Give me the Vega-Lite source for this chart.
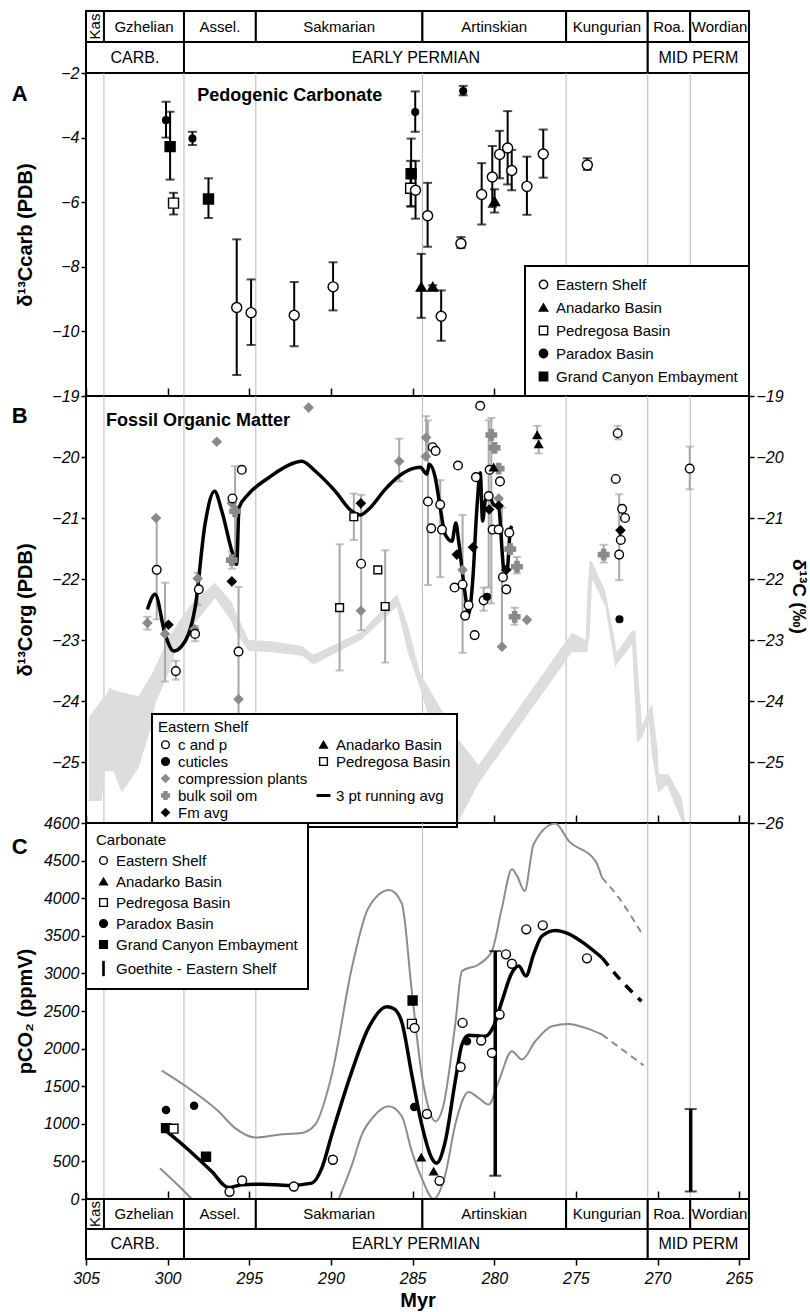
{
"$schema":"https://vega.github.io/schema/vega-lite/v6.json",
"padding":{"left":10,"top":9,"right":0,"bottom":5},
"spacing":0,
"bounds":"flush",
"config":{
 "font":"Liberation Sans",
 "view":{"stroke":"black","strokeWidth":2},
 "axis":{"labelFont":"Liberation Sans","labelFontSize":16,"labelFontStyle":"italic","labelColor":"black","tickColor":"black","tickWidth":1.5,"tickSize":5,"domain":false,"grid":false,"titleFont":"Liberation Sans","titleFontSize":20,"titleFontWeight":"bold","titleColor":"black","labelPadding":2,"labelFlush":false,"labelOverlap":false,"labelBound":false},
 "legend":{"labelFont":"Liberation Sans","labelFontSize":15,"labelColor":"black","strokeColor":"black","fillColor":"white","cornerRadius":0,"titleFont":"Liberation Sans","titleFontSize":15,"titleFontWeight":"normal","titleColor":"black","symbolStrokeWidth":1.4,"labelOffset":5,"strokeWidth":2,"labelLimit":260},
 "text":{"font":"Liberation Sans","color":"black"}
},
"resolve":{"scale":{"shape":"independent","fill":"independent","stroke":"independent","y":"independent"},"legend":{"shape":"independent","fill":"independent","stroke":"independent"}},
"datasets":{
 "stages":[
  {"name":"Kas","row":"stage","start":305,"end":303.9},
  {"name":"Gzhelian","row":"stage","start":303.9,"end":299.0},
  {"name":"Assel.","row":"stage","start":299.0,"end":294.6},
  {"name":"Sakmarian","row":"stage","start":294.6,"end":284.4},
  {"name":"Artinskian","row":"stage","start":284.4,"end":275.6},
  {"name":"Kungurian","row":"stage","start":275.6,"end":270.6},
  {"name":"Roa.","row":"stage","start":270.6,"end":268.0},
  {"name":"Wordian","row":"stage","start":268.0,"end":264.4},
  {"name":"CARB.","row":"epoch","start":305,"end":299.0},
  {"name":"EARLY PERMIAN","row":"epoch","start":299.0,"end":270.6},
  {"name":"MID PERM","row":"epoch","start":270.6,"end":264.4}
 ],
 "carbA":[
  {"age":300.10,"d13c":-3.46,"lo":-4.0,"hi":-2.89,"site":"Paradox Basin"},
  {"age":299.85,"d13c":-4.28,"lo":-5.3,"hi":-3.2,"site":"Grand Canyon Embayment"},
  {"age":299.64,"d13c":-6.03,"lo":-6.38,"hi":-5.71,"site":"Pedregosa Basin"},
  {"age":298.48,"d13c":-4.03,"lo":-4.23,"hi":-3.82,"site":"Paradox Basin"},
  {"age":297.50,"d13c":-5.9,"lo":-6.49,"hi":-5.26,"site":"Grand Canyon Embayment"},
  {"age":295.77,"d13c":-9.26,"lo":-11.35,"hi":-7.15,"site":"Eastern Shelf"},
  {"age":294.89,"d13c":-9.42,"lo":-10.42,"hi":-8.39,"site":"Eastern Shelf"},
  {"age":292.25,"d13c":-9.5,"lo":-10.46,"hi":-8.47,"site":"Eastern Shelf"},
  {"age":289.87,"d13c":-8.62,"lo":-9.35,"hi":-7.86,"site":"Eastern Shelf"},
  {"age":284.84,"d13c":-3.21,"lo":-3.82,"hi":-2.57,"site":"Paradox Basin"},
  {"age":285.09,"d13c":-5.12,"lo":-6.13,"hi":-4.03,"site":"Grand Canyon Embayment"},
  {"age":285.12,"d13c":-5.57,"lo":-6.13,"hi":-4.72,"site":"Pedregosa Basin"},
  {"age":284.82,"d13c":-5.63,"lo":-6.51,"hi":-4.72,"site":"Eastern Shelf"},
  {"age":284.08,"d13c":-6.42,"lo":-7.38,"hi":-5.4,"site":"Eastern Shelf"},
  {"age":284.47,"d13c":-8.62,"lo":-9.58,"hi":-7.6,"site":"Anadarko Basin"},
  {"age":283.77,"d13c":-8.62,"lo":-8.68,"hi":-8.57,"site":"Anadarko Basin"},
  {"age":283.25,"d13c":-9.53,"lo":-10.29,"hi":-8.73,"site":"Eastern Shelf"},
  {"age":281.90,"d13c":-2.56,"lo":-2.69,"hi":-2.4,"site":"Paradox Basin"},
  {"age":282.04,"d13c":-7.28,"lo":-7.42,"hi":-7.08,"site":"Eastern Shelf"},
  {"age":280.77,"d13c":-5.76,"lo":-6.69,"hi":-4.79,"site":"Eastern Shelf"},
  {"age":280.12,"d13c":-5.22,"lo":-6.15,"hi":-4.26,"site":"Eastern Shelf"},
  {"age":279.98,"d13c":-5.97,"lo":-6.32,"hi":-5.6,"site":"Anadarko Basin"},
  {"age":279.67,"d13c":-4.52,"lo":-5.26,"hi":-3.79,"site":"Eastern Shelf"},
  {"age":279.18,"d13c":-4.32,"lo":-5.45,"hi":-3.18,"site":"Eastern Shelf"},
  {"age":278.93,"d13c":-5.02,"lo":-5.63,"hi":-4.38,"site":"Eastern Shelf"},
  {"age":278.00,"d13c":-5.51,"lo":-6.39,"hi":-4.59,"site":"Eastern Shelf"},
  {"age":277.00,"d13c":-4.51,"lo":-5.24,"hi":-3.75,"site":"Eastern Shelf"},
  {"age":274.30,"d13c":-4.85,"lo":-5.0,"hi":-4.64,"site":"Eastern Shelf"}
 ],
 "orgB":[
  {"type":"compression plants","age":301.24,"d13c":-22.72,"lo":-22.83,"hi":-22.62},
  {"type":"compression plants","age":300.71,"d13c":-21.0},
  {"type":"compression plants","age":300.16,"d13c":-22.9,"lo":-23.68,"hi":-22.06},
  {"type":"compression plants","age":298.16,"d13c":-21.99,"lo":-22.43,"hi":-21.9},
  {"type":"compression plants","age":298.36,"d13c":-22.82},
  {"type":"compression plants","age":296.99,"d13c":-19.75},
  {"type":"compression plants","age":296.07,"d13c":-20.76},
  {"type":"compression plants","age":295.66,"d13c":-23.97},
  {"type":"compression plants","age":291.37,"d13c":-19.19},
  {"type":"compression plants","age":285.82,"d13c":-20.07,"lo":-20.4,"hi":-19.7},
  {"type":"compression plants","age":288.17,"d13c":-22.52},
  {"type":"compression plants","age":284.17,"d13c":-19.68,"lo":-20.0,"hi":-19.33},
  {"type":"compression plants","age":284.19,"d13c":-19.99},
  {"type":"compression plants","age":281.94,"d13c":-21.85,"lo":-23.21,"hi":-20.95},
  {"type":"compression plants","age":279.73,"d13c":-20.68},
  {"type":"compression plants","age":279.53,"d13c":-23.11,"lo":-23.11,"hi":-20.83},
  {"type":"compression plants","age":278.00,"d13c":-22.67},
  {"type":"bulk soil om","age":295.87,"d13c":-20.89,"lo":-21.6,"hi":-20.15},
  {"type":"bulk soil om","age":296.07,"d13c":-21.69,"lo":-21.83,"hi":-21.55},
  {"type":"bulk soil om","age":280.18,"d13c":-19.64,"lo":-22.4,"hi":-19.36},
  {"type":"bulk soil om","age":279.98,"d13c":-19.85},
  {"type":"bulk soil om","age":279.73,"d13c":-20.19},
  {"type":"bulk soil om","age":279.02,"d13c":-21.51},
  {"type":"bulk soil om","age":278.61,"d13c":-21.8,"lo":-21.91,"hi":-21.64},
  {"type":"bulk soil om","age":278.75,"d13c":-22.62,"lo":-22.75,"hi":-22.47},
  {"type":"bulk soil om","age":273.30,"d13c":-21.6,"lo":-21.73,"hi":-21.44},
  {"type":"c and p","age":300.67,"d13c":-21.85,"lo":-22.66,"hi":-21.0},
  {"type":"c and p","age":299.50,"d13c":-23.51,"lo":-23.65,"hi":-23.34},
  {"type":"c and p","age":298.09,"d13c":-22.17},
  {"type":"c and p","age":298.32,"d13c":-22.9,"lo":-23.02,"hi":-22.77},
  {"type":"c and p","age":296.03,"d13c":-20.68},
  {"type":"c and p","age":295.66,"d13c":-23.19,"lo":-24.25,"hi":-22.13},
  {"type":"c and p","age":295.46,"d13c":-20.21},
  {"type":"c and p","age":288.15,"d13c":-21.75,"lo":-22.84,"hi":-20.62},
  {"type":"c and p","age":284.06,"d13c":-20.73,"lo":-22.1,"hi":-19.4},
  {"type":"c and p","age":283.77,"d13c":-19.84},
  {"type":"c and p","age":283.59,"d13c":-19.9},
  {"type":"c and p","age":283.86,"d13c":-21.17},
  {"type":"c and p","age":283.31,"d13c":-20.78,"lo":-21.97,"hi":-20.38},
  {"type":"c and p","age":283.20,"d13c":-21.19},
  {"type":"c and p","age":282.22,"d13c":-20.14},
  {"type":"c and p","age":282.43,"d13c":-22.14},
  {"type":"c and p","age":281.94,"d13c":-22.09},
  {"type":"c and p","age":281.57,"d13c":-22.43},
  {"type":"c and p","age":281.78,"d13c":-22.6},
  {"type":"c and p","age":281.20,"d13c":-22.92},
  {"type":"c and p","age":281.12,"d13c":-20.33},
  {"type":"c and p","age":280.86,"d13c":-19.16},
  {"type":"c and p","age":280.65,"d13c":-22.35,"lo":-22.52,"hi":-22.14},
  {"type":"c and p","age":280.28,"d13c":-20.21},
  {"type":"c and p","age":280.34,"d13c":-20.64,"lo":-22.14,"hi":-19.4},
  {"type":"c and p","age":279.65,"d13c":-20.4},
  {"type":"c and p","age":280.10,"d13c":-21.19},
  {"type":"c and p","age":279.73,"d13c":-21.19},
  {"type":"c and p","age":279.47,"d13c":-21.97},
  {"type":"c and p","age":279.26,"d13c":-22.17},
  {"type":"c and p","age":279.08,"d13c":-21.24},
  {"type":"c and p","age":272.56,"d13c":-20.36},
  {"type":"c and p","age":272.17,"d13c":-20.85},
  {"type":"c and p","age":271.99,"d13c":-21.0},
  {"type":"c and p","age":272.25,"d13c":-21.36},
  {"type":"c and p","age":272.35,"d13c":-21.6,"lo":-22.02,"hi":-20.61},
  {"type":"c and p","age":272.44,"d13c":-19.61,"lo":-19.71,"hi":-19.49},
  {"type":"c and p","age":268.03,"d13c":-20.19,"lo":-20.53,"hi":-19.83},
  {"type":"cuticles","age":280.45,"d13c":-22.29},
  {"type":"cuticles","age":272.33,"d13c":-22.66},
  {"type":"Fm avg","age":299.95,"d13c":-22.75},
  {"type":"Fm avg","age":296.07,"d13c":-22.04},
  {"type":"Fm avg","age":288.17,"d13c":-20.76},
  {"type":"Fm avg","age":282.29,"d13c":-21.6},
  {"type":"Fm avg","age":281.30,"d13c":-21.48},
  {"type":"Fm avg","age":280.31,"d13c":-20.86},
  {"type":"Fm avg","age":279.73,"d13c":-20.8},
  {"type":"Fm avg","age":279.26,"d13c":-21.85},
  {"type":"Fm avg","age":272.27,"d13c":-21.2},
  {"type":"Anadarko Basin","age":277.37,"d13c":-19.64,"lo":-19.71,"hi":-19.49},
  {"type":"Anadarko Basin","age":277.28,"d13c":-19.79,"lo":-19.94,"hi":-19.71},
  {"type":"Anadarko Basin","age":280.04,"d13c":-20.17},
  {"type":"Pedregosa Basin","age":288.60,"d13c":-20.98,"lo":-21.36,"hi":-20.6},
  {"type":"Pedregosa Basin","age":289.47,"d13c":-22.47,"lo":-23.5,"hi":-21.43},
  {"type":"Pedregosa Basin","age":287.13,"d13c":-21.85},
  {"type":"Pedregosa Basin","age":286.68,"d13c":-22.45,"lo":-23.37,"hi":-21.53}
 ],
 "avgB":[
  {"age":301.24,"v":-22.5},{"age":300.77,"v":-22.25},{"age":300.16,"v":-22.9},{"age":299.64,"v":-23.18},
  {"age":299.14,"v":-23.1},{"age":298.32,"v":-22.47},{"age":297.71,"v":-21.1},{"age":297.13,"v":-20.56},
  {"age":296.68,"v":-20.89},{"age":296.07,"v":-21.54},{"age":295.77,"v":-21.76},{"age":295.63,"v":-20.83},
  {"age":295.05,"v":-20.61},{"age":293.82,"v":-20.34},{"age":292.19,"v":-20.09},{"age":291.78,"v":-20.07},
  {"age":290.97,"v":-20.23},{"age":289.74,"v":-20.56},{"age":288.72,"v":-20.89},{"age":288.21,"v":-20.95},
  {"age":287.70,"v":-20.86},{"age":286.68,"v":-20.53},{"age":285.66,"v":-20.28},{"age":284.53,"v":-20.17},
  {"age":284.12,"v":-20.28},{"age":283.98,"v":-20.12},{"age":283.61,"v":-20.34},{"age":283.31,"v":-20.83},
  {"age":283.00,"v":-21.27},{"age":282.59,"v":-21.38},{"age":282.35,"v":-21.08},{"age":282.18,"v":-21.38},
  {"age":281.78,"v":-22.25},{"age":281.57,"v":-22.58},{"age":281.32,"v":-22.03},{"age":281.06,"v":-20.83},
  {"age":280.86,"v":-20.26},{"age":280.71,"v":-21.05},{"age":280.55,"v":-20.72},{"age":280.34,"v":-20.64},
  {"age":280.04,"v":-20.78},{"age":279.73,"v":-20.83},{"age":279.42,"v":-21.81},{"age":279.22,"v":-21.87},
  {"age":279.02,"v":-21.21},{"age":278.92,"v":-21.13}
 ],
 "bandB":[
  {"age":304.82,"lo":-25.64,"hi":-24.27},{"age":304.65,"lo":-25.64,"hi":-24.2},{"age":304.04,"lo":-25.64,"hi":-23.98},
  {"age":303.84,"lo":-25.15,"hi":-23.93},{"age":303.53,"lo":-25.15,"hi":-23.78},{"age":303.32,"lo":-25.15,"hi":-23.82},
  {"age":302.81,"lo":-25.5,"hi":-23.86},{"age":301.79,"lo":-25.1,"hi":-23.92},{"age":300.97,"lo":-24.4,"hi":-23.56},
  {"age":300.77,"lo":-24.05,"hi":-23.45},{"age":299.95,"lo":-23.55,"hi":-22.96},{"age":299.55,"lo":-23.23,"hi":-22.8},
  {"age":298.73,"lo":-22.9,"hi":-22.47},{"age":298.32,"lo":-22.72,"hi":-22.35},{"age":297.10,"lo":-22.31,"hi":-22.06},
  {"age":296.07,"lo":-22.7,"hi":-22.38},{"age":295.87,"lo":-22.85,"hi":-22.52},{"age":295.05,"lo":-23.18,"hi":-23.0},
  {"age":293.62,"lo":-23.2,"hi":-23.02},{"age":291.78,"lo":-23.26,"hi":-23.1},{"age":291.07,"lo":-23.4,"hi":-23.24},
  {"age":288.11,"lo":-22.99,"hi":-22.86},{"age":285.96,"lo":-22.45,"hi":-22.25},{"age":285.30,"lo":-23.2,"hi":-22.75},
  {"age":284.53,"lo":-23.8,"hi":-23.55},{"age":282.18,"lo":-25.97,"hi":-24.63},{"age":280.96,"lo":-25.35,"hi":-25.05},
  {"age":275.24,"lo":-23.2,"hi":-22.88},{"age":274.40,"lo":-23.2,"hi":-23.0},{"age":274.30,"lo":-23.2,"hi":-22.2},
  {"age":274.15,"lo":-22.9,"hi":-21.7},{"age":274.00,"lo":-22.0,"hi":-21.72},{"age":273.20,"lo":-22.45,"hi":-22.2},
  {"age":272.59,"lo":-23.45,"hi":-23.05},{"age":272.49,"lo":-23.4,"hi":-23.2},{"age":271.56,"lo":-23.07,"hi":-22.85},
  {"age":271.36,"lo":-24.13,"hi":-22.85},{"age":271.26,"lo":-24.68,"hi":-23.27},{"age":270.95,"lo":-24.6,"hi":-24.4},
  {"age":270.54,"lo":-24.33,"hi":-24.15},{"age":270.34,"lo":-24.9,"hi":-24.05},{"age":269.97,"lo":-25.5,"hi":-24.85},
  {"age":269.93,"lo":-25.5,"hi":-25.2},{"age":269.42,"lo":-25.37,"hi":-25.2},{"age":269.32,"lo":-25.45,"hi":-25.2},
  {"age":268.51,"lo":-25.97,"hi":-25.6},{"age":268.31,"lo":-26.0,"hi":-25.97}
 ],
 "co2C":[
  {"site":"Paradox Basin","age":300.10,"co2":1183},
  {"site":"Paradox Basin","age":298.38,"co2":1241},
  {"site":"Grand Canyon Embayment","age":300.10,"co2":943},
  {"site":"Pedregosa Basin","age":299.64,"co2":935},
  {"site":"Grand Canyon Embayment","age":297.65,"co2":562},
  {"site":"Eastern Shelf","age":296.21,"co2":96},
  {"site":"Eastern Shelf","age":295.44,"co2":246},
  {"site":"Eastern Shelf","age":292.27,"co2":166},
  {"site":"Eastern Shelf","age":289.88,"co2":522},
  {"site":"Grand Canyon Embayment","age":285.0,"co2":2640},
  {"site":"Pedregosa Basin","age":285.04,"co2":2329},
  {"site":"Eastern Shelf","age":284.88,"co2":2275},
  {"site":"Paradox Basin","age":284.90,"co2":1223},
  {"site":"Eastern Shelf","age":284.12,"co2":1130},
  {"site":"Anadarko Basin","age":284.47,"co2":553},
  {"site":"Anadarko Basin","age":283.71,"co2":366},
  {"site":"Eastern Shelf","age":283.35,"co2":242},
  {"site":"Eastern Shelf","age":281.94,"co2":2342},
  {"site":"Paradox Basin","age":281.67,"co2":2098},
  {"site":"Eastern Shelf","age":282.06,"co2":1756},
  {"site":"Eastern Shelf","age":280.80,"co2":2107},
  {"site":"Eastern Shelf","age":280.14,"co2":1942},
  {"site":"Eastern Shelf","age":279.67,"co2":2453},
  {"site":"Eastern Shelf","age":279.28,"co2":3253},
  {"site":"Eastern Shelf","age":278.92,"co2":3128},
  {"site":"Eastern Shelf","age":278.04,"co2":3586},
  {"site":"Eastern Shelf","age":277.03,"co2":3639},
  {"site":"Eastern Shelf","age":274.32,"co2":3200}
 ],
 "goeC":[
  {"age":279.94,"lo":309,"hi":3297},
  {"age":267.97,"lo":100,"hi":1196}
 ],
 "curvesC":[
  {"curve":"mean","style":"solid","age":300.06,"co2":899},{"curve":"mean","style":"solid","age":298.73,"co2":655},
  {"curve":"mean","style":"solid","age":297.30,"co2":366},{"curve":"mean","style":"solid","age":296.27,"co2":153},
  {"curve":"mean","style":"solid","age":295.46,"co2":189},{"curve":"mean","style":"solid","age":294.23,"co2":197},
  {"curve":"mean","style":"solid","age":292.60,"co2":180},{"curve":"mean","style":"solid","age":291.17,"co2":211},
  {"curve":"mean","style":"solid","age":290.56,"co2":410},{"curve":"mean","style":"solid","age":289.95,"co2":855},
  {"curve":"mean","style":"solid","age":288.72,"co2":1698},{"curve":"mean","style":"solid","age":287.70,"co2":2275},
  {"curve":"mean","style":"solid","age":286.57,"co2":2555},{"curve":"mean","style":"solid","age":286.15,"co2":2530},
  {"curve":"mean","style":"solid","age":285.66,"co2":2350},{"curve":"mean","style":"solid","age":285.05,"co2":1654},
  {"curve":"mean","style":"solid","age":284.44,"co2":988},{"curve":"mean","style":"solid","age":283.83,"co2":543},
  {"curve":"mean","style":"solid","age":283.53,"co2":477},{"curve":"mean","style":"solid","age":283.00,"co2":766},
  {"curve":"mean","style":"solid","age":282.39,"co2":1565},{"curve":"mean","style":"solid","age":281.98,"co2":2054},
  {"curve":"mean","style":"solid","age":281.57,"co2":2178},{"curve":"mean","style":"solid","age":280.55,"co2":2164},
  {"curve":"mean","style":"solid","age":280.04,"co2":2298},{"curve":"mean","style":"solid","age":279.53,"co2":2631},
  {"curve":"mean","style":"solid","age":278.92,"co2":3008},{"curve":"mean","style":"solid","age":278.50,"co2":3097},
  {"curve":"mean","style":"solid","age":278.06,"co2":2964},{"curve":"mean","style":"solid","age":277.59,"co2":3253},
  {"curve":"mean","style":"solid","age":277.08,"co2":3497},{"curve":"mean","style":"solid","age":276.26,"co2":3572},
  {"curve":"mean","style":"solid","age":275.44,"co2":3527},{"curve":"mean","style":"solid","age":274.42,"co2":3386},
  {"curve":"mean","style":"solid","age":273.40,"co2":3208},
  {"curve":"mean","style":"dashed","age":273.40,"co2":3208},{"curve":"mean","style":"dashed","age":272.38,"co2":2941},
  {"curve":"mean","style":"dashed","age":270.99,"co2":2631},
  {"curve":"upper","style":"solid","age":300.36,"co2":1708},{"curve":"upper","style":"solid","age":298.73,"co2":1476},
  {"curve":"upper","style":"solid","age":296.89,"co2":1166},{"curve":"upper","style":"solid","age":295.87,"co2":943},
  {"curve":"upper","style":"solid","age":294.64,"co2":819},{"curve":"upper","style":"solid","age":293.21,"co2":855},
  {"curve":"upper","style":"solid","age":291.78,"co2":877},{"curve":"upper","style":"solid","age":290.97,"co2":988},
  {"curve":"upper","style":"solid","age":289.95,"co2":1654},{"curve":"upper","style":"solid","age":288.72,"co2":3074},
  {"curve":"upper","style":"solid","age":287.70,"co2":3873},{"curve":"upper","style":"solid","age":286.43,"co2":4109},
  {"curve":"upper","style":"solid","age":285.66,"co2":3930},{"curve":"upper","style":"solid","age":285.05,"co2":2764},
  {"curve":"upper","style":"solid","age":284.44,"co2":1654},{"curve":"upper","style":"solid","age":284.02,"co2":1209},
  {"curve":"upper","style":"solid","age":283.61,"co2":1032},{"curve":"upper","style":"solid","age":283.10,"co2":1255},
  {"curve":"upper","style":"solid","age":282.39,"co2":2320},{"curve":"upper","style":"solid","age":281.98,"co2":3030},
  {"curve":"upper","style":"solid","age":280.96,"co2":3119},{"curve":"upper","style":"solid","age":280.14,"co2":3297},
  {"curve":"upper","style":"solid","age":279.53,"co2":3873},{"curve":"upper","style":"solid","age":278.92,"co2":4385},
  {"curve":"upper","style":"solid","age":278.61,"co2":4300},{"curve":"upper","style":"solid","age":278.14,"co2":4096},
  {"curve":"upper","style":"solid","age":277.59,"co2":4718},{"curve":"upper","style":"solid","age":276.26,"co2":4993},
  {"curve":"upper","style":"solid","age":275.44,"co2":4762},{"curve":"upper","style":"solid","age":273.81,"co2":4496},
  {"curve":"upper","style":"solid","age":273.40,"co2":4273},
  {"curve":"upper","style":"dashed","age":273.40,"co2":4273},{"curve":"upper","style":"dashed","age":272.38,"co2":4007},
  {"curve":"upper","style":"dashed","age":270.99,"co2":3540},
  {"curve":"lower1","style":"solid","age":300.47,"co2":410},{"curve":"lower1","style":"solid","age":299.44,"co2":200},
  {"curve":"lower1","style":"solid","age":298.52,"co2":0},
  {"curve":"lower2","style":"solid","age":289.53,"co2":0},{"curve":"lower2","style":"solid","age":288.72,"co2":450},
  {"curve":"lower2","style":"solid","age":288.11,"co2":855},{"curve":"lower2","style":"solid","age":287.37,"co2":1100},
  {"curve":"lower2","style":"solid","age":286.47,"co2":1232},{"curve":"lower2","style":"solid","age":285.66,"co2":1100},
  {"curve":"lower2","style":"solid","age":285.05,"co2":633},{"curve":"lower2","style":"solid","age":284.44,"co2":277},
  {"curve":"lower2","style":"solid","age":283.71,"co2":0},{"curve":"lower2","style":"solid","age":283.00,"co2":322},
  {"curve":"lower2","style":"solid","age":282.39,"co2":988},{"curve":"lower2","style":"solid","age":281.57,"co2":1423},
  {"curve":"lower2","style":"solid","age":280.96,"co2":1343},{"curve":"lower2","style":"solid","age":280.34,"co2":1255},
  {"curve":"lower2","style":"solid","age":279.73,"co2":1565},{"curve":"lower2","style":"solid","age":278.92,"co2":1965},
  {"curve":"lower2","style":"solid","age":278.30,"co2":1854},{"curve":"lower2","style":"solid","age":277.49,"co2":2098},
  {"curve":"lower2","style":"solid","age":276.47,"co2":2298},{"curve":"lower2","style":"solid","age":275.44,"co2":2328},
  {"curve":"lower2","style":"solid","age":274.42,"co2":2275},{"curve":"lower2","style":"solid","age":273.40,"co2":2187},
  {"curve":"lower2","style":"dashed","age":273.40,"co2":2187},{"curve":"lower2","style":"dashed","age":272.16,"co2":1987},
  {"curve":"lower2","style":"dashed","age":270.85,"co2":1778}
 ]
},
"vconcat":[
 {
  "width":663,"height":62,
  "data":{"name":"stages"},
  "layer":[
   {"mark":{"type":"rect","fill":"white","stroke":"black","strokeWidth":2},
    "encoding":{
     "x":{"field":"start","type":"quantitative","scale":{"domain":[264.4,305],"reverse":true,"nice":false,"zero":false},"axis":null},
     "x2":{"field":"end"},
     "y":{"field":"row","type":"nominal","scale":{"domain":["stage","epoch"],"paddingInner":0,"paddingOuter":0},"axis":null}}},
   {"transform":[{"fold":["start","end"],"as":["k","v"]},{"aggregate":[{"op":"mean","field":"v","as":"mid"}],"groupby":["name","row"]}],
    "mark":{"type":"text","baseline":"middle","align":"center"},
    "encoding":{
     "x":{"field":"mid","type":"quantitative","scale":{"domain":[264.4,305],"reverse":true,"nice":false,"zero":false},"axis":null},
     "y":{"field":"row","type":"nominal","scale":{"domain":["stage","epoch"],"paddingInner":0,"paddingOuter":0},"axis":null},
     "text":{"field":"name"},
     "size":{"condition":{"test":"datum.row==='epoch'","value":16},"value":15},
     "angle":{"condition":{"test":"datum.name==='Kas'","value":270},"value":0}}}
  ]
 },
 {
  "width":663,"height":323,
  "layer":[
   {"data":{"name":"stages"},"transform":[{"filter":"datum.row==='stage' && datum.start<305"}],
    "mark":{"type":"rule","color":"#b8b8b8","strokeWidth":1},
    "encoding":{"x":{"field":"start","type":"quantitative","scale":{"domain":[264.4,305],"reverse":true,"nice":false,"zero":false},
      "axis":{"orient":"bottom","values":[305,300,295,290,285,280,275,270,265],"tickSize":-8,"labels":false,"title":null}}}},
   {"data":{"name":"carbA"},"mark":{"type":"rule","color":"black","strokeWidth":2},
    "encoding":{
     "x":{"field":"age","type":"quantitative","scale":{"domain":[264.4,305],"reverse":true,"nice":false,"zero":false}},
     "y":{"field":"lo","type":"quantitative","scale":{"domain":[-12,-2],"nice":false,"zero":false},
      "axis":{"values":[-2,-4,-6,-8,-10],"format":".0f","labelOverlap":false,"title":"δ¹³Ccarb (PDB)","titleX":-61,"titleAngle":270,"titleBaseline":"middle","titleAlign":"center"}},
     "y2":{"field":"hi"}}},
   {"data":{"name":"carbA"},"mark":{"type":"tick","orient":"horizontal","size":9,"thickness":2,"color":"black"},
    "encoding":{
     "x":{"field":"age","type":"quantitative","scale":{"domain":[264.4,305],"reverse":true,"nice":false,"zero":false}},
     "y":{"field":"lo","type":"quantitative","scale":{"domain":[-12,-2],"nice":false,"zero":false}}}},
   {"data":{"name":"carbA"},"mark":{"type":"tick","orient":"horizontal","size":9,"thickness":2,"color":"black"},
    "encoding":{
     "x":{"field":"age","type":"quantitative","scale":{"domain":[264.4,305],"reverse":true,"nice":false,"zero":false}},
     "y":{"field":"hi","type":"quantitative","scale":{"domain":[-12,-2],"nice":false,"zero":false}}}},
   {"data":{"name":"carbA"},"mark":{"type":"point","filled":true,"strokeWidth":1.4,"opacity":1},
    "encoding":{
     "x":{"field":"age","type":"quantitative","scale":{"domain":[264.4,305],"reverse":true,"nice":false,"zero":false}},
     "y":{"field":"d13c","type":"quantitative","scale":{"domain":[-12,-2],"nice":false,"zero":false}},
     "shape":{"field":"site","type":"nominal","scale":{"domain":["Eastern Shelf","Anadarko Basin","Pedregosa Basin","Paradox Basin","Grand Canyon Embayment"],"range":["circle","triangle-up","square","circle","square"]},
      "legend":{"title":null,"orient":"bottom-right","offset":0,"padding":11,"rowPadding":7,"symbolSize":70}},
     "fill":{"field":"site","type":"nominal","scale":{"domain":["Eastern Shelf","Anadarko Basin","Pedregosa Basin","Paradox Basin","Grand Canyon Embayment"],"range":["white","black","white","black","black"]},
      "legend":{"title":null,"orient":"bottom-right","offset":0,"padding":11,"rowPadding":7,"symbolSize":70}},
     "stroke":{"field":"site","type":"nominal","scale":{"domain":["Eastern Shelf","Anadarko Basin","Pedregosa Basin","Paradox Basin","Grand Canyon Embayment"],"range":["black","black","black","black","black"]},
      "legend":{"title":null,"orient":"bottom-right","offset":0,"padding":11,"rowPadding":7,"symbolSize":70}},
     "size":{"condition":{"test":"datum.site==='Paradox Basin'","value":45},"value":100}}},
   {"data":{"values":[{}]},"mark":{"type":"text","text":"Pedogenic Carbonate","fontSize":18,"fontWeight":"bold","align":"center","baseline":"middle"},
    "encoding":{
     "x":{"datum":292.52,"type":"quantitative","scale":{"domain":[264.4,305],"reverse":true,"nice":false,"zero":false}},
     "y":{"datum":-2.72,"type":"quantitative","scale":{"domain":[-12,-2],"nice":false,"zero":false}}}},
   {"data":{"values":[{}]},"mark":{"type":"text","text":"A","fontSize":22,"fontWeight":"bold","align":"left","baseline":"middle"},
    "encoding":{
     "x":{"datum":309.55,"type":"quantitative","scale":{"domain":[264.4,305],"reverse":true,"nice":false,"zero":false}},
     "y":{"datum":-2.66,"type":"quantitative","scale":{"domain":[-12,-2],"nice":false,"zero":false}}}}
  ]
 },
 {
  "width":663,"height":427,
  "layer":[
   {"data":{"name":"stages"},"transform":[{"filter":"datum.row==='stage' && datum.start<305"}],
    "mark":{"type":"rule","color":"#b8b8b8","strokeWidth":1},
    "encoding":{"x":{"field":"start","type":"quantitative","scale":{"domain":[264.4,305],"reverse":true,"nice":false,"zero":false},
      "axis":{"orient":"bottom","values":[305,300,295,290,285,280,275,270,265],"tickSize":-8,"labels":false,"title":null}}}},
   {"data":{"name":"bandB"},"mark":{"type":"area","color":"#dddddd","opacity":1},
    "encoding":{
     "x":{"field":"age","type":"quantitative","scale":{"domain":[264.4,305],"reverse":true,"nice":false,"zero":false}},
     "y":{"field":"lo","type":"quantitative","scale":{"domain":[-26,-19],"nice":false,"zero":false},
      "axis":{"orient":"right","values":[-19,-20,-21,-22,-23,-24,-25,-26],"format":".0f","labelOverlap":false,"title":"δ¹³C (‰)","titleAngle":90,"titleBaseline":"middle","titleAlign":"center","titleX":49,"titleY":200,"titleFontSize":19}},
     "y2":{"field":"hi"}}},
   {"layer":[
    {"data":{"name":"orgB"},"transform":[{"filter":"isValid(datum.lo)"}],"mark":{"type":"rule","color":"#a8a8a8","strokeWidth":2},
     "encoding":{
      "x":{"field":"age","type":"quantitative","scale":{"domain":[264.4,305],"reverse":true,"nice":false,"zero":false}},
      "y":{"field":"lo","type":"quantitative","scale":{"domain":[-26,-19],"nice":false,"zero":false},
       "axis":{"values":[-19,-20,-21,-22,-23,-24,-25],"format":".0f","labelOverlap":false,"title":"δ¹³Corg (PDB)","titleX":-61,"titleAngle":270,"titleBaseline":"middle","titleAlign":"center"}},
      "y2":{"field":"hi"}}},
    {"data":{"name":"orgB"},"transform":[{"filter":"isValid(datum.lo)"}],"mark":{"type":"tick","orient":"horizontal","size":8,"thickness":2,"color":"#a8a8a8"},
     "encoding":{
      "x":{"field":"age","type":"quantitative","scale":{"domain":[264.4,305],"reverse":true,"nice":false,"zero":false}},
      "y":{"field":"lo","type":"quantitative","scale":{"domain":[-26,-19],"nice":false,"zero":false}}}},
    {"data":{"name":"orgB"},"transform":[{"filter":"isValid(datum.hi)"}],"mark":{"type":"tick","orient":"horizontal","size":8,"thickness":2,"color":"#a8a8a8"},
     "encoding":{
      "x":{"field":"age","type":"quantitative","scale":{"domain":[264.4,305],"reverse":true,"nice":false,"zero":false}},
      "y":{"field":"hi","type":"quantitative","scale":{"domain":[-26,-19],"nice":false,"zero":false}}}},
    {"data":{"name":"avgB"},"mark":{"type":"line","color":"black","strokeWidth":3.5,"interpolate":"monotone"},
     "encoding":{
      "x":{"field":"age","type":"quantitative","scale":{"domain":[264.4,305],"reverse":true,"nice":false,"zero":false}},
      "y":{"field":"v","type":"quantitative","scale":{"domain":[-26,-19],"nice":false,"zero":false}}}},
    {"data":{"name":"orgB"},"mark":{"type":"point","filled":true,"strokeWidth":1.4,"opacity":1},
     "encoding":{
      "x":{"field":"age","type":"quantitative","scale":{"domain":[264.4,305],"reverse":true,"nice":false,"zero":false}},
      "y":{"field":"d13c","type":"quantitative","scale":{"domain":[-26,-19],"nice":false,"zero":false}},
      "shape":{"field":"type","type":"nominal","scale":{"domain":["c and p","cuticles","compression plants","bulk soil om","Fm avg","Anadarko Basin","Pedregosa Basin","_","3 pt running avg"],"range":["circle","circle","diamond","cross","diamond","triangle-up","square","circle","M-1.6,-0.22H1.6V0.22H-1.6Z"]},
       "legend":{"title":"Eastern Shelf","orient":"none","legendX":66,"legendY":318,"columns":2,"padding":6,"rowPadding":1,"columnPadding":6,"titlePadding":2,"symbolSize":60,"labelExpr":"datum.label==='_'?'':datum.label"}},
      "fill":{"field":"type","type":"nominal","scale":{"domain":["c and p","cuticles","compression plants","bulk soil om","Fm avg","Anadarko Basin","Pedregosa Basin","_","3 pt running avg"],"range":["white","black","#8a8a8a","#8a8a8a","black","black","white","transparent","black"]},
       "legend":{"title":"Eastern Shelf","orient":"none","legendX":66,"legendY":318,"columns":2,"padding":6,"rowPadding":1,"columnPadding":6,"titlePadding":2,"symbolSize":60,"labelExpr":"datum.label==='_'?'':datum.label"}},
      "stroke":{"field":"type","type":"nominal","scale":{"domain":["c and p","cuticles","compression plants","bulk soil om","Fm avg","Anadarko Basin","Pedregosa Basin","_","3 pt running avg"],"range":["black","black","#8a8a8a","#8a8a8a","black","black","black","transparent","black"]},
       "legend":{"title":"Eastern Shelf","orient":"none","legendX":66,"legendY":318,"columns":2,"padding":6,"rowPadding":1,"columnPadding":6,"titlePadding":2,"symbolSize":60,"labelExpr":"datum.label==='_'?'':datum.label"}},
      "size":{"condition":[{"test":"datum.type==='cuticles'","value":45},{"test":"datum.type==='bulk soil om'","value":110},{"test":"datum.type==='Anadarko Basin' || datum.type==='Pedregosa Basin'","value":60}],"value":75}}},
    {"data":{"values":[{}]},"mark":{"type":"text","text":"Fossil Organic Matter","fontSize":18,"fontWeight":"bold","align":"left","baseline":"middle"},
     "encoding":{
      "x":{"datum":303.77,"type":"quantitative","scale":{"domain":[264.4,305],"reverse":true,"nice":false,"zero":false}},
      "y":{"datum":-19.41,"type":"quantitative","scale":{"domain":[-26,-19],"nice":false,"zero":false}}}},
    {"data":{"values":[{}]},"mark":{"type":"text","text":"B","fontSize":22,"fontWeight":"bold","align":"left","baseline":"middle"},
     "encoding":{
      "x":{"datum":309.55,"type":"quantitative","scale":{"domain":[264.4,305],"reverse":true,"nice":false,"zero":false}},
      "y":{"datum":-19.33,"type":"quantitative","scale":{"domain":[-26,-19],"nice":false,"zero":false}}}}
   ]}
  ],
  "resolve":{"scale":{"y":"independent"}}
 },
 {
  "width":663,"height":376,
  "layer":[
   {"data":{"name":"stages"},"transform":[{"filter":"datum.row==='stage' && datum.start<305"}],
    "mark":{"type":"rule","color":"#b8b8b8","strokeWidth":1},
    "encoding":{"x":{"field":"start","type":"quantitative","scale":{"domain":[264.4,305],"reverse":true,"nice":false,"zero":false},
      "axis":{"orient":"bottom","values":[305,300,295,290,285,280,275,270,265],"tickSize":-8,"labels":false,"title":null}}}},
   {"data":{"name":"curvesC"},"transform":[{"filter":"datum.curve!=='mean' && datum.style==='solid'"}],
    "mark":{"type":"line","color":"#8c8c8c","strokeWidth":2,"interpolate":"monotone","clip":true},
    "encoding":{
     "x":{"field":"age","type":"quantitative","scale":{"domain":[264.4,305],"reverse":true,"nice":false,"zero":false}},
     "y":{"field":"co2","type":"quantitative","scale":{"domain":[0,5000],"nice":false,"zero":false},
      "axis":{"values":[0,500,1000,1500,2000,2500,3000,3500,4000,4500,5000],"tickCount":11,"labelOverlap":false,"labelSeparation":0,"labelExpr":"datum.value==5000?'4600':format(datum.value,'d')","title":"pCO₂ (ppmV)","titleX":-61,"titleAngle":270,"titleBaseline":"middle","titleAlign":"center"}},
     "detail":{"field":"curve"}}},
   {"data":{"name":"curvesC"},"transform":[{"filter":"datum.curve!=='mean' && datum.style==='dashed'"}],
    "mark":{"type":"line","color":"#8c8c8c","strokeWidth":2,"strokeDash":[7,5],"interpolate":"monotone","clip":true},
    "encoding":{
     "x":{"field":"age","type":"quantitative","scale":{"domain":[264.4,305],"reverse":true,"nice":false,"zero":false}},
     "y":{"field":"co2","type":"quantitative","scale":{"domain":[0,5000],"nice":false,"zero":false}},
     "detail":{"field":"curve"}}},
   {"data":{"name":"curvesC"},"transform":[{"filter":"datum.curve==='mean' && datum.style==='solid'"}],
    "mark":{"type":"line","color":"black","strokeWidth":3.5,"interpolate":"monotone","clip":true},
    "encoding":{
     "x":{"field":"age","type":"quantitative","scale":{"domain":[264.4,305],"reverse":true,"nice":false,"zero":false}},
     "y":{"field":"co2","type":"quantitative","scale":{"domain":[0,5000],"nice":false,"zero":false}}}},
   {"data":{"name":"curvesC"},"transform":[{"filter":"datum.curve==='mean' && datum.style==='dashed'"}],
    "mark":{"type":"line","color":"black","strokeWidth":3.5,"strokeDash":[10,8],"interpolate":"monotone","clip":true},
    "encoding":{
     "x":{"field":"age","type":"quantitative","scale":{"domain":[264.4,305],"reverse":true,"nice":false,"zero":false}},
     "y":{"field":"co2","type":"quantitative","scale":{"domain":[0,5000],"nice":false,"zero":false}}}},
   {"data":{"name":"goeC"},"mark":{"type":"rule","color":"black","strokeWidth":3.5},
    "encoding":{
     "x":{"field":"age","type":"quantitative","scale":{"domain":[264.4,305],"reverse":true,"nice":false,"zero":false}},
     "y":{"field":"lo","type":"quantitative","scale":{"domain":[0,5000],"nice":false,"zero":false}},
     "y2":{"field":"hi"}}},
   {"data":{"name":"goeC"},"mark":{"type":"tick","orient":"horizontal","size":12,"thickness":2,"color":"black"},
    "encoding":{
     "x":{"field":"age","type":"quantitative","scale":{"domain":[264.4,305],"reverse":true,"nice":false,"zero":false}},
     "y":{"field":"lo","type":"quantitative","scale":{"domain":[0,5000],"nice":false,"zero":false}}}},
   {"data":{"name":"goeC"},"mark":{"type":"tick","orient":"horizontal","size":12,"thickness":2,"color":"black"},
    "encoding":{
     "x":{"field":"age","type":"quantitative","scale":{"domain":[264.4,305],"reverse":true,"nice":false,"zero":false}},
     "y":{"field":"hi","type":"quantitative","scale":{"domain":[0,5000],"nice":false,"zero":false}}}},
   {"data":{"name":"co2C"},"mark":{"type":"point","filled":true,"strokeWidth":1.4,"opacity":1},
    "encoding":{
     "x":{"field":"age","type":"quantitative","scale":{"domain":[264.4,305],"reverse":true,"nice":false,"zero":false}},
     "y":{"field":"co2","type":"quantitative","scale":{"domain":[0,5000],"nice":false,"zero":false}},
     "shape":{"field":"site","type":"nominal","scale":{"domain":["Eastern Shelf","Anadarko Basin","Pedregosa Basin","Paradox Basin","Grand Canyon Embayment","Goethite - Eastern Shelf"],"range":["circle","triangle-up","square","circle","square","M-0.16,-1.8H0.16V1.8H-0.16Z"]},
      "legend":{"title":"Carbonate","orient":"top-left","offset":0,"padding":10,"rowPadding":5,"symbolSize":60}},
     "fill":{"field":"site","type":"nominal","scale":{"domain":["Eastern Shelf","Anadarko Basin","Pedregosa Basin","Paradox Basin","Grand Canyon Embayment","Goethite - Eastern Shelf"],"range":["white","black","white","black","black","black"]},
      "legend":{"title":"Carbonate","orient":"top-left","offset":0,"padding":10,"rowPadding":5,"symbolSize":60}},
     "stroke":{"field":"site","type":"nominal","scale":{"domain":["Eastern Shelf","Anadarko Basin","Pedregosa Basin","Paradox Basin","Grand Canyon Embayment","Goethite - Eastern Shelf"],"range":["black","black","black","black","black","black"]},
      "legend":{"title":"Carbonate","orient":"top-left","offset":0,"padding":10,"rowPadding":5,"symbolSize":60}},
     "size":{"condition":[{"test":"datum.site==='Paradox Basin'","value":50},{"test":"datum.site==='Anadarko Basin'","value":60}],"value":80}}},
   {"data":{"values":[{}]},"mark":{"type":"text","text":"C","fontSize":22,"fontWeight":"bold","align":"left","baseline":"middle"},
    "encoding":{
     "x":{"datum":309.55,"type":"quantitative","scale":{"domain":[264.4,305],"reverse":true,"nice":false,"zero":false}},
     "y":{"datum":4680,"type":"quantitative","scale":{"domain":[0,5000],"nice":false,"zero":false}}}}
  ]
 },
 {
  "width":663,"height":60,
  "data":{"name":"stages"},
  "layer":[
   {"mark":{"type":"rect","fill":"white","stroke":"black","strokeWidth":2},
    "encoding":{
     "x":{"field":"start","type":"quantitative","scale":{"domain":[264.4,305],"reverse":true,"nice":false,"zero":false},
      "axis":{"orient":"bottom","values":[305,300,295,290,285,280,275,270,265],"tickSize":6,"labelPadding":5,"title":"Myr","titlePadding":4}},
     "x2":{"field":"end"},
     "y":{"field":"row","type":"nominal","scale":{"domain":["stage","epoch"],"paddingInner":0,"paddingOuter":0},"axis":null}}},
   {"transform":[{"fold":["start","end"],"as":["k","v"]},{"aggregate":[{"op":"mean","field":"v","as":"mid"}],"groupby":["name","row"]}],
    "mark":{"type":"text","baseline":"middle","align":"center"},
    "encoding":{
     "x":{"field":"mid","type":"quantitative","scale":{"domain":[264.4,305],"reverse":true,"nice":false,"zero":false}},
     "y":{"field":"row","type":"nominal","scale":{"domain":["stage","epoch"],"paddingInner":0,"paddingOuter":0},"axis":null},
     "text":{"field":"name"},
     "size":{"condition":{"test":"datum.row==='epoch'","value":16},"value":15},
     "angle":{"condition":{"test":"datum.name==='Kas'","value":270},"value":0}}}
  ]
 }
]
}
